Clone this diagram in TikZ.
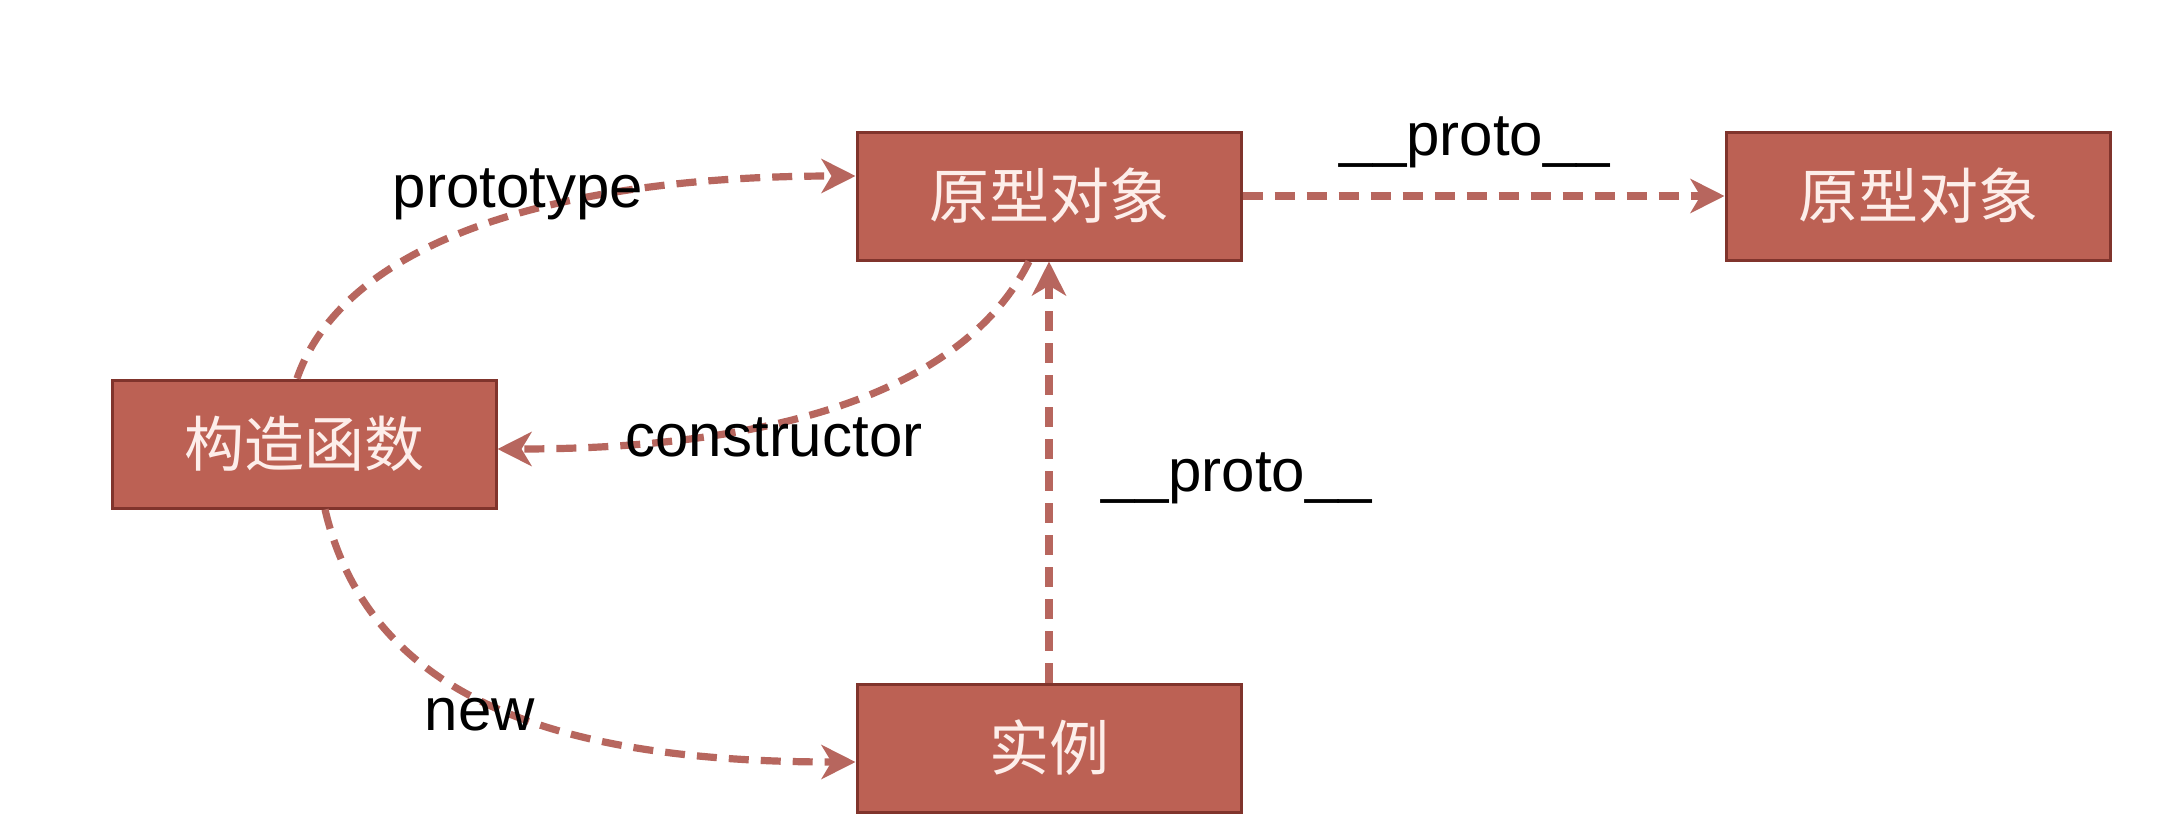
\documentclass[tikz,border=0pt]{standalone}
\usepackage{fontspec}
\setmainfont{Liberation Sans}
\newfontfamily\cjk{Noto Sans CJK SC}
\usetikzlibrary{arrows.meta,calc}
\definecolor{boxfill}{RGB}{188,97,84}
\definecolor{boxedge}{RGB}{128,52,44}
\definecolor{linkcol}{RGB}{183,102,94}
\definecolor{boxtext}{RGB}{253,238,234}
\tikzset{
  objbox/.style={draw=boxedge, line width=1.5pt, fill=boxfill, minimum width=192pt, minimum height=64pt, inner sep=0pt, font=\cjk\fontsize{30}{36}\selectfont, text=boxtext},
  link/.style={draw=linkcol, line width=3.6pt, dash pattern=on 10pt off 6pt, -{Stealth[length=17pt,width=17pt,inset=5pt]}},
  lbl/.style={anchor=base, font=\fontsize{30}{36}\selectfont, text=black, inner sep=0pt}
}
\begin{document}
\begin{tikzpicture}[x=0.5pt,y=-0.5pt]
\useasboundingbox[fill=white] (0,0) rectangle (2168,836);
\node[objbox] (proto1) at (1049,196) {原型对象};
\node[objbox] (proto2) at (1918,196) {原型对象};
\node[objbox] (ctor) at (304,444) {构造函数};
\node[objbox] (inst) at (1049,748) {实例};
% prototype
\draw[link] ($(ctor.north)+(-7,0)$) .. controls (345,240) and (560,176) .. ($(proto1.west)+(0,-20)$);
% constructor
\draw[link] ($(proto1.south)+(-20,0)$) .. controls (970,380) and (800,449) .. ($(ctor.east)+(0,5)$);
% new
\draw[link] ($(ctor.south)+(21,0)$) .. controls (370,700) and (560,762) .. ($(inst.west)+(0,14)$);
% __proto__ vertical
\draw[link] (inst.north) -- (proto1.south);
% __proto__ horizontal
\draw[link] (proto1.east) -- (proto2.west);
\node[lbl] (lproto) at (518,207) {prototype};
\node[lbl] (lctor) at (774,456) {constructor};
\node[lbl] (lnew) at (480,730) {new};
\node[lbl] (lp1) at (1475,155) {\_\_proto\_\_};
\node[lbl] (lp2) at (1237,491) {\_\_proto\_\_};
\end{tikzpicture}
\end{document}
